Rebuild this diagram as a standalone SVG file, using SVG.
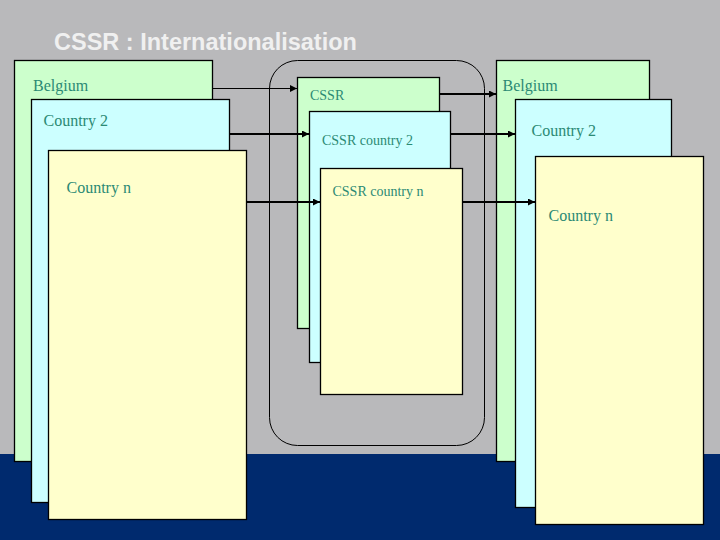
<svg xmlns="http://www.w3.org/2000/svg" width="720" height="540" viewBox="0 0 720 540">
<style>
.g{fill:#ccffcc;stroke:#000;stroke-width:1.3}
.c{fill:#ccffff;stroke:#000;stroke-width:1.3}
.y{fill:#ffffcc;stroke:#000;stroke-width:1.3}
.t{font-family:"Liberation Serif",serif;fill:#2b8a74}
.l16{font-size:16px}
.l14{font-size:14px}
.a{stroke:#000;fill:none}
</style>
<defs>
<marker id="ah" viewBox="0 0 10 10" refX="10" refY="5" markerWidth="9" markerHeight="7" markerUnits="userSpaceOnUse" orient="auto"><path d="M0,0 L10,5 L0,10 z" fill="#000"/></marker>
</defs>
<rect x="0" y="0" width="720" height="540" fill="#b9b9bb"/>
<rect x="0" y="454" width="720" height="86" fill="#002a6e"/>
<text x="54" y="50" font-family="Liberation Sans,Arial,sans-serif" font-size="23.5" font-weight="bold" fill="#f0f0f0">CSSR : Internationalisation</text>

<g id="group-outline">
<rect x="269.5" y="60.5" width="215" height="385" rx="28" ry="28" fill="none" stroke="#000" stroke-width="1"/>
</g>

<g id="left-belgium"><rect class="g" x="14.5" y="60.5" width="198" height="401"/><text class="t l16" x="33" y="91">Belgium</text></g>
<g id="left-country2"><rect class="c" x="31.5" y="99.5" width="198" height="403"/><text class="t l16" x="43.5" y="125.5">Country 2</text></g>
<g id="left-countryn"><rect class="y" x="48.5" y="150.5" width="198" height="369"/><text class="t l16" x="66.5" y="193">Country n</text></g>

<g id="mid-cssr"><rect class="g" x="297.5" y="77.5" width="142" height="251"/><text class="t l14" x="310" y="100">CSSR</text></g>
<g id="mid-cssr2"><rect class="c" x="309.5" y="111.5" width="141" height="251"/><text class="t l14" x="322" y="145">CSSR country 2</text></g>
<g id="mid-cssrn"><rect class="y" x="320.5" y="168.5" width="142" height="226"/><text class="t l14" x="332.5" y="196">CSSR country n</text></g>

<g id="right-belgium"><rect class="g" x="496.5" y="60.5" width="153" height="401"/><text class="t l16" x="502.5" y="91">Belgium</text></g>
<g id="right-country2"><rect class="c" x="515.5" y="99.5" width="156" height="408"/><text class="t l16" x="531.5" y="136">Country 2</text></g>
<g id="right-countryn"><rect class="y" x="535.5" y="156.5" width="168" height="368"/><text class="t l16" x="548.5" y="221">Country n</text></g>

<g id="connectors">
<line class="a" x1="213" y1="88.5" x2="297" y2="88.5" stroke-width="1.2" marker-end="url(#ah)"/>
<line class="a" x1="230" y1="134" x2="309" y2="134" stroke-width="2" marker-end="url(#ah)"/>
<line class="a" x1="247" y1="202" x2="320" y2="202" stroke-width="2" marker-end="url(#ah)"/>
<line class="a" x1="440" y1="94" x2="496" y2="94" stroke-width="2.2" marker-end="url(#ah)"/>
<line class="a" x1="451" y1="134" x2="515" y2="134" stroke-width="2" marker-end="url(#ah)"/>
<line class="a" x1="463" y1="202" x2="535" y2="202" stroke-width="2" marker-end="url(#ah)"/>
</g>
</svg>
